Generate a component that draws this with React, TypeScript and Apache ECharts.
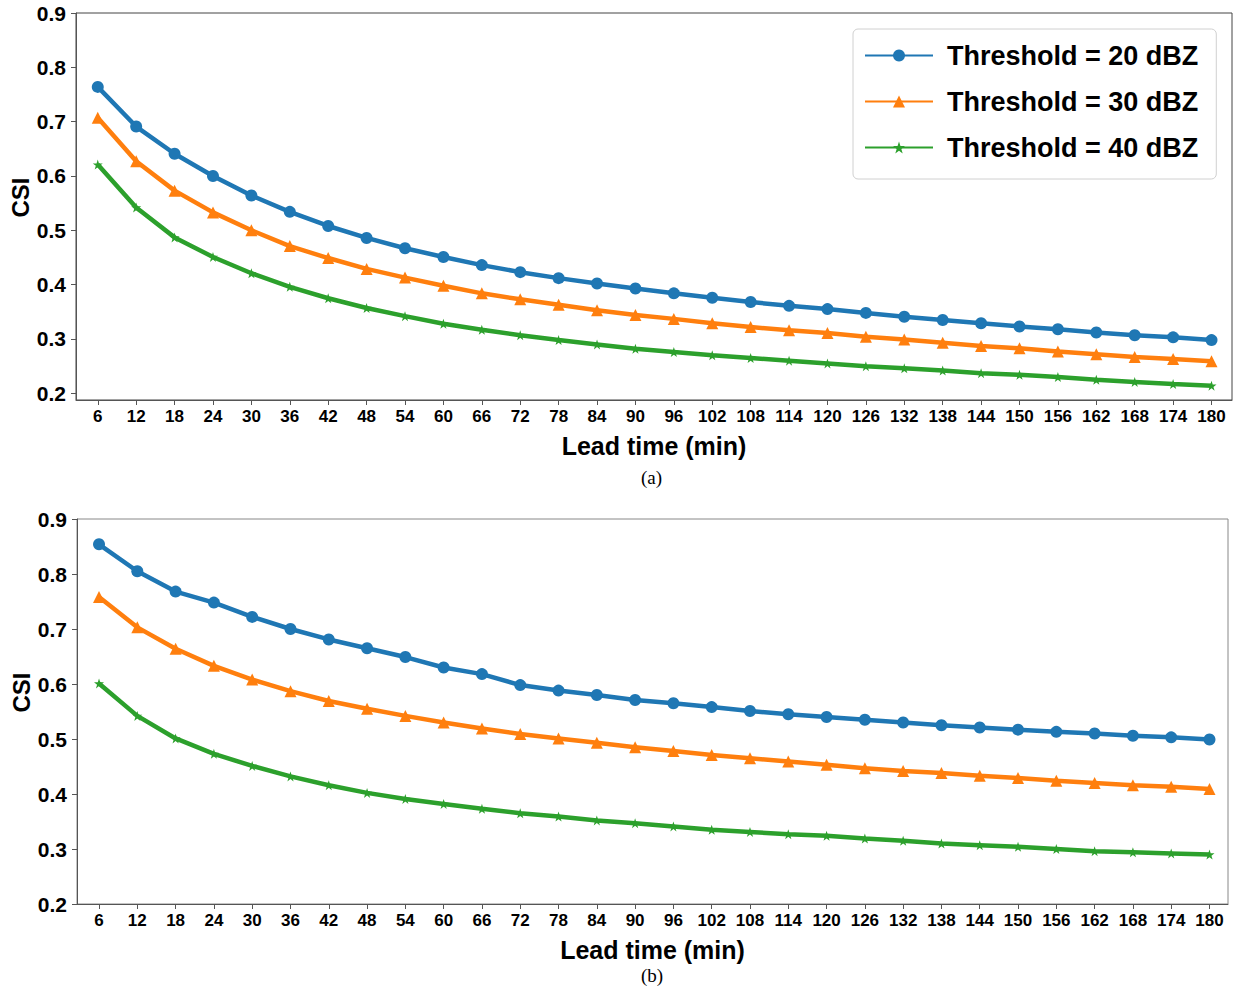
import React, { useEffect, useRef } from "react";
import * as echarts from "echarts";

const leadTimes = [6, 12, 18, 24, 30, 36, 42, 48, 54, 60, 66, 72, 78, 84, 90, 96, 102, 108, 114, 120, 126, 132, 138, 144, 150, 156, 162, 168, 174, 180];
const yTicks = [0.2, 0.3, 0.4, 0.5, 0.6, 0.7, 0.8, 0.9];
const seriesNames = ["Threshold = 20 dBZ", "Threshold = 30 dBZ", "Threshold = 40 dBZ"];

// (a)
const topBlue = [0.764, 0.691, 0.641, 0.600, 0.564, 0.534, 0.508, 0.486, 0.467, 0.451, 0.436, 0.423, 0.412, 0.402, 0.393, 0.384, 0.376, 0.368, 0.361, 0.355, 0.348, 0.341, 0.335, 0.329, 0.323, 0.318, 0.312, 0.307, 0.303, 0.298];
const topOrange = [0.707, 0.627, 0.573, 0.533, 0.500, 0.471, 0.449, 0.429, 0.413, 0.398, 0.384, 0.373, 0.363, 0.353, 0.344, 0.337, 0.329, 0.322, 0.316, 0.311, 0.304, 0.299, 0.293, 0.287, 0.283, 0.277, 0.272, 0.267, 0.263, 0.259];
const topGreen = [0.621, 0.542, 0.487, 0.451, 0.421, 0.396, 0.375, 0.357, 0.342, 0.328, 0.317, 0.307, 0.298, 0.290, 0.282, 0.276, 0.270, 0.265, 0.260, 0.255, 0.250, 0.246, 0.242, 0.237, 0.234, 0.230, 0.225, 0.221, 0.217, 0.214];

// (b)
const botBlue = [0.854, 0.805, 0.768, 0.748, 0.722, 0.700, 0.681, 0.665, 0.649, 0.630, 0.618, 0.598, 0.588, 0.580, 0.571, 0.565, 0.558, 0.551, 0.545, 0.540, 0.535, 0.530, 0.525, 0.521, 0.517, 0.513, 0.510, 0.506, 0.503, 0.499];
const botOrange = [0.758, 0.703, 0.664, 0.633, 0.608, 0.587, 0.569, 0.555, 0.542, 0.530, 0.519, 0.509, 0.501, 0.493, 0.485, 0.478, 0.471, 0.465, 0.459, 0.453, 0.447, 0.442, 0.438, 0.433, 0.429, 0.424, 0.420, 0.416, 0.413, 0.409];
const botGreen = [0.601, 0.542, 0.501, 0.473, 0.451, 0.432, 0.416, 0.402, 0.391, 0.382, 0.373, 0.365, 0.359, 0.352, 0.347, 0.341, 0.335, 0.331, 0.327, 0.324, 0.319, 0.315, 0.310, 0.307, 0.304, 0.300, 0.296, 0.294, 0.292, 0.290];

const colors = ["#1f77b4", "#ff7f0e", "#2ca02c"];
const STAR = "path://M50,0 L61.8,35.1 L98.9,35.1 L69,56.9 L80.3,91.9 L50,70.3 L19.7,91.9 L31,56.9 L1.1,35.1 L38.2,35.1 Z";
const symbols = ["circle", "triangle", STAR];
const symbolSizes = [12, 12, 10];
const FONT = "'Liberation Sans', Arial, sans-serif";

const pairs = (ys: number[]) => leadTimes.map((t, i) => [t, ys[i]]);

function makeXAxis(gridIndex: number, min: number, max: number) {
  return {
    type: "value",
    gridIndex,
    min,
    max,
    name: "Lead time (min)",
    nameLocation: "middle",
    nameGap: 33,
    nameMoveOverlap: false,
    nameTextStyle: { fontFamily: FONT, fontWeight: "bold", fontSize: 25, color: "#000" },
    axisLine: { show: true, onZero: false, lineStyle: { color: "#555", width: 1 } },
    axisTick: { show: true, length: 5, customValues: leadTimes, lineStyle: { color: "#555" } },
    axisLabel: {
      customValues: leadTimes,
      fontFamily: FONT,
      fontWeight: "bold",
      fontSize: 17,
      color: "#000",
      margin: 8,
    },
    splitLine: { show: false },
  };
}

function makeYAxis(gridIndex: number, min: number, max: number, nameShift: number) {
  return {
    type: "value",
    gridIndex,
    min,
    max,
    name: "CSI",
    nameLocation: "middle",
    nameGap: 44,
    nameMoveOverlap: false,
    nameTextStyle: { fontFamily: FONT, fontWeight: "bold", fontSize: 24, color: "#000", padding: [0, 0, 0, nameShift] },
    axisLine: { show: true, lineStyle: { color: "#555", width: 1 } },
    axisTick: { show: true, length: 5, customValues: yTicks, lineStyle: { color: "#555" } },
    axisLabel: {
      customValues: yTicks,
      formatter: (v: number) => v.toFixed(1),
      fontFamily: FONT,
      fontWeight: "bold",
      fontSize: 21,
      color: "#000",
      margin: 10,
    },
    splitLine: { show: false },
  };
}

function makeSeries(data: number[][], idx: number, axisIndex: number) {
  return {
    type: "line",
    name: seriesNames[idx],
    xAxisIndex: axisIndex,
    yAxisIndex: axisIndex,
    data,
    symbol: symbols[idx],
    symbolSize: symbolSizes[idx],
    showAllSymbol: true,
    color: colors[idx],
    lineStyle: { width: 4.5, color: colors[idx] },
    itemStyle: { color: colors[idx] },
    emphasis: { disabled: true },
  };
}

export default function App() {
  const ref = useRef<HTMLDivElement>(null);
  useEffect(() => {
    if (!ref.current) return;
    const chart = echarts.init(ref.current, null, { renderer: "svg" });
    chart.setOption({
      animation: false,
      backgroundColor: "#fff",
      grid: [
        { left: 76, width: 1156, top: 13, height: 387, show: true, borderColor: "#444", borderWidth: 1, containLabel: false, outerBoundsMode: "none" },
        { left: 77, width: 1151, top: 519, height: 385, show: true, borderColor: "#888", borderWidth: 1, containLabel: false, outerBoundsMode: "none" },
      ],
      xAxis: [makeXAxis(0, 2.6, 183.2), makeXAxis(1, 2.55, 182.9)],
      yAxis: [makeYAxis(0, 0.1877, 0.9, 18), makeYAxis(1, 0.2, 0.9, 38)],
      legend: {
        data: seriesNames,
        orient: "vertical",
        left: 853,
        top: 29,
        itemWidth: 68,
        itemHeight: 15,
        itemGap: 19,
        padding: [13, 18, 18, 11],
        borderColor: "#d0d0d0",
        borderWidth: 1,
        borderRadius: 5,
        backgroundColor: "#fff",
        textStyle: { fontFamily: FONT, fontWeight: "bold", fontSize: 27, color: "#000", padding: [0, 0, 0, 9] },
      },
      graphic: [
        { type: "text", left: 641, top: 468, style: { text: "(a)", font: "19px 'Liberation Serif', 'Times New Roman', serif", fill: "#000" } },
        { type: "text", left: 641, top: 966, style: { text: "(b)", font: "19px 'Liberation Serif', 'Times New Roman', serif", fill: "#000" } },
      ],
      series: [
        makeSeries(pairs(topBlue), 0, 0),
        makeSeries(pairs(topOrange), 1, 0),
        makeSeries(pairs(topGreen), 2, 0),
        makeSeries(pairs(botBlue), 0, 1),
        makeSeries(pairs(botOrange), 1, 1),
        makeSeries(pairs(botGreen), 2, 1),
      ],
    });
    return () => chart.dispose();
  }, []);
  return (
    <div
      ref={ref}
      style={{ position: "fixed", left: 0, top: 0, width: 1237, height: 987, background: "#fff" }}
    />
  );
}
